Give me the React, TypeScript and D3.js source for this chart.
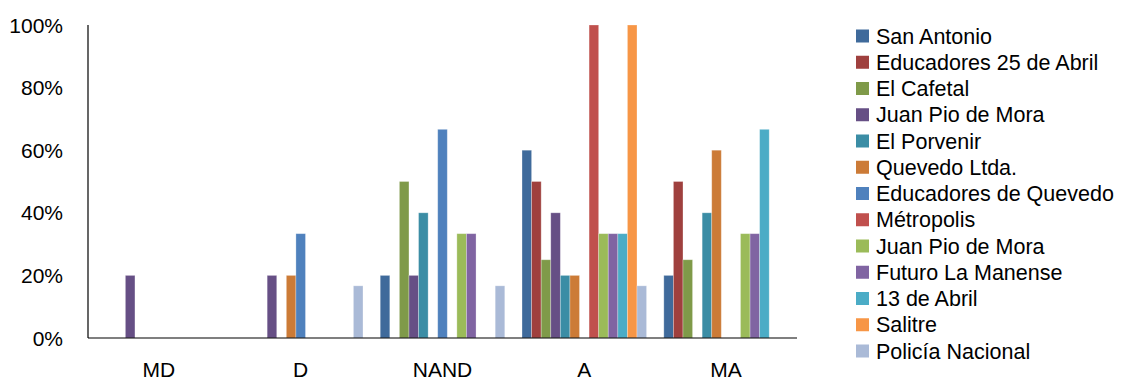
import React from "react";
import * as d3 from "d3";

const categories = ["MD", "D", "NAND", "A", "MA"];
const seriesNames = [
  "San Antonio",
  "Educadores 25 de Abril",
  "El Cafetal",
  "Juan Pio de Mora",
  "El Porvenir",
  "Quevedo Ltda.",
  "Educadores de Quevedo",
  "Métropolis",
  "Juan Pio de Mora",
  "Futuro La Manense",
  "13 de Abril",
  "Salitre",
  "Policía Nacional",
];
const seriesColors = [
  "#3F6A9B",
  "#9F403E",
  "#7F9A49",
  "#664F85",
  "#3B8DA5",
  "#CC7B37",
  "#4F81BD",
  "#C0504D",
  "#9BBB59",
  "#8064A2",
  "#4BACC6",
  "#F79646",
  "#AABAD7",
];
// values per series, in category order MD, D, NAND, A, MA (fractions)
const sanAntonio = [0, 0, 0.2, 0.6, 0.2];
const educadores25 = [0, 0, 0, 0.5, 0.5];
const elCafetal = [0, 0, 0.5, 0.25, 0.25];
const juanPio1 = [0.2, 0.2, 0.2, 0.4, 0];
const elPorvenir = [0, 0, 0.4, 0.2, 0.4];
const quevedoLtda = [0, 0.2, 0, 0.2, 0.6];
const educadoresQuevedo = [0, 0.3333, 0.6667, 0, 0];
const metropolis = [0, 0, 0, 1, 0];
const juanPio2 = [0, 0, 0.3333, 0.3333, 0.3333];
const futuro = [0, 0, 0.3333, 0.3333, 0.3333];
const trece = [0, 0, 0, 0.3333, 0.6667];
const salitre = [0, 0, 0, 1, 0];
const policia = [0, 0.1667, 0.1667, 0.1667, 0];
const seriesValues = [
  sanAntonio, educadores25, elCafetal, juanPio1, elPorvenir, quevedoLtda,
  educadoresQuevedo, metropolis, juanPio2, futuro, trece, salitre, policia,
];
const yTicks = [0, 0.2, 0.4, 0.6, 0.8, 1];

const W = 1121;
const H = 381;
const left = 88;
const right = 797;
const top = 25;
const bottom = 338;
const FONT = "'Liberation Sans', Arial, sans-serif";

export default function App() {
  const x0 = d3.scaleBand<string>().domain(categories).range([left, right]).paddingInner(0).paddingOuter(0);
  const x1 = d3
    .scaleBand<number>()
    .domain(d3.range(seriesNames.length))
    .range([0, x0.bandwidth()])
    .paddingInner(0)
    .paddingOuter(0.9);
  const y = d3.scaleLinear().domain([0, 1]).range([bottom, top]);

  return (
    <svg width={W} height={H} style={{ position: "absolute", left: 0, top: 0, background: "#fff" }}>
      {seriesValues.map((vals, si) =>
        vals.map((v, ci) =>
          v > 0 ? (
            <rect
              key={`${si}-${ci}`}
              x={(x0(categories[ci]) as number) + (x1(si) as number)}
              y={y(v)}
              width={x1.bandwidth()}
              height={bottom - y(v)}
              fill={seriesColors[si]}
              stroke="#ffffff"
              strokeOpacity={0.35}
              strokeWidth={0.8}
            />
          ) : null
        )
      )}
      <line x1={left} x2={left} y1={top} y2={bottom} stroke="#000" strokeWidth={1.2} />
      <line x1={left} x2={right} y1={bottom} y2={bottom} stroke="#000" strokeWidth={1.2} />
      {yTicks.map((t) => (
        <text key={t} x={63} y={y(t)} dy="0.36em" textAnchor="end" fontFamily={FONT} fontSize={21} fill="#000">
          {d3.format(".0%")(t)}
        </text>
      ))}
      {categories.map((c) => (
        <text
          key={c}
          x={(x0(c) as number) + x0.bandwidth() / 2}
          y={377}
          textAnchor="middle"
          fontFamily={FONT}
          fontSize={21}
          fill="#000"
        >
          {c}
        </text>
      ))}
      {seriesNames.map((n, i) => {
        const cy = 36 + i * 26.25;
        return (
          <g key={i}>
            <rect x={856} y={cy - 6.5} width={13} height={13} fill={seriesColors[i]} />
            <text x={876} y={cy} dy="0.36em" fontFamily={FONT} fontSize={21.5} fill="#000">
              {n}
            </text>
          </g>
        );
      })}
    </svg>
  );
}
